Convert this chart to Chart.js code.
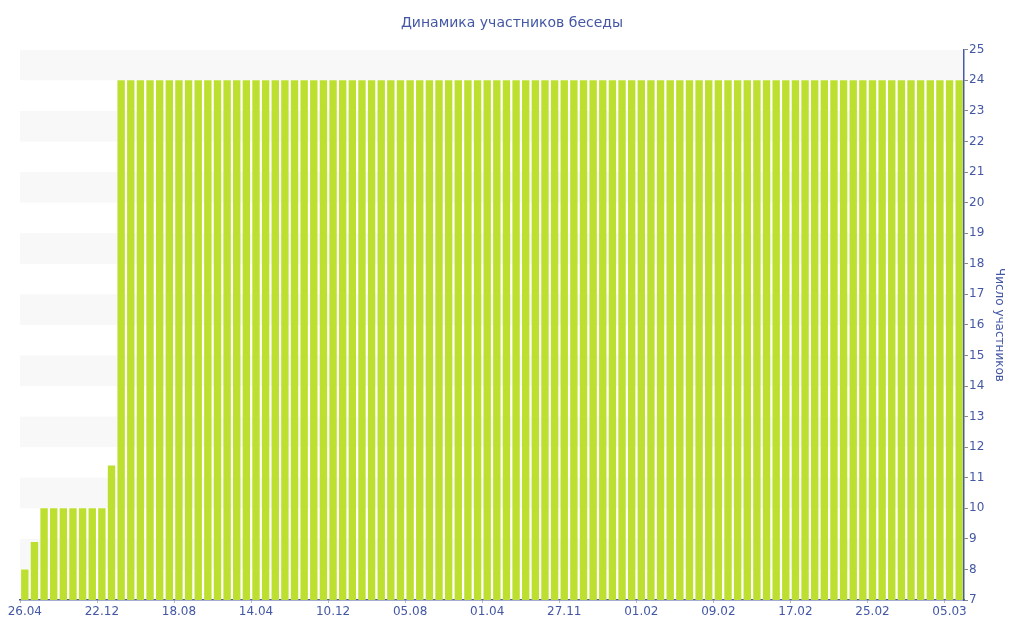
<!DOCTYPE html>
<html>
<head>
<meta charset="utf-8">
<script src="https://cdn.jsdelivr.net/npm/chart.js@4"></script>
<style>
  html, body { margin: 0; padding: 0; background: #fff; }
  #wrap { width: 1024px; height: 640px; }
</style>
</head>
<body>
<div id="wrap"><canvas id="chart"></canvas></div>
<script>
// Tick labels shown every 8th bar
const tickLabels = ["26.04", "22.12", "18.08", "14.04", "10.12", "05.08", "01.04",
  "27.11", "01.02", "09.02", "17.02", "25.02", "05.03"];

// Number of participants per bar
const members = [
  8, 8.9, 10, 10, 10, 10, 10, 10, 10, 11.4,
  24, 24, 24, 24, 24, 24, 24, 24, 24, 24,
  24, 24, 24, 24, 24, 24, 24, 24, 24, 24,
  24, 24, 24, 24, 24, 24, 24, 24, 24, 24,
  24, 24, 24, 24, 24, 24, 24, 24, 24, 24,
  24, 24, 24, 24, 24, 24, 24, 24, 24, 24,
  24, 24, 24, 24, 24, 24, 24, 24, 24, 24,
  24, 24, 24, 24, 24, 24, 24, 24, 24, 24,
  24, 24, 24, 24, 24, 24, 24, 24, 24, 24,
  24, 24, 24, 24, 24, 24, 24, 24,
];

const categories = members.map((_, i) => (i % 8 === 0 ? tickLabels[i / 8] : ""));

const textColor = "#4357a5";
const axisColor = "#4a5aa8";

// Alternating light bands behind the bars
const bandsPlugin = {
  id: "bands",
  beforeDraw(chart) {
    const { ctx, chartArea, scales } = chart;
    ctx.save();
    ctx.fillStyle = "#f8f8f8";
    for (let v = 8; v < 25; v += 2) {
      const top = scales.y.getPixelForValue(v + 1);
      const bottom = scales.y.getPixelForValue(v);
      ctx.fillRect(chartArea.left, top, chartArea.right - chartArea.left, bottom - top);
    }
    ctx.restore();
  },
};

new Chart(document.getElementById("chart"), {
  type: "bar",
  plugins: [bandsPlugin],
  data: {
    labels: categories,
    datasets: [
      {
        data: members,
        yAxisID: "y",
        xAxisID: "x",
        backgroundColor: "#bde030",
        borderWidth: 0,
        barPercentage: 0.77,
        categoryPercentage: 1,
      },
    ],
  },
  options: {
    responsive: true,
    maintainAspectRatio: false,
    animation: false,
    plugins: {
      legend: { display: false },
      tooltip: { enabled: false },
      title: {
        display: true,
        text: "Динамика участников беседы",
        color: textColor,
        font: { family: "DejaVu Sans", size: 14, weight: "normal" },
        padding: { top: 15, bottom: 18 },
      },
    },
    scales: {
      x: {
        grid: {
          drawOnChartArea: false,
          tickLength: 3,
          tickColor: (c) => (c.index % 8 === 0 ? "#bbbbbb" : "transparent"),
        },
        border: { color: axisColor, width: 1.5 },
        ticks: {
          autoSkip: false,
          maxRotation: 0,
          padding: 2,
          color: textColor,
          font: { family: "DejaVu Sans", size: 12 },
        },
        afterFit: (s) => { s.height = 40; },
      },
      y: {
        position: "right",
        min: 7,
        max: 25,
        grid: {
          drawOnChartArea: false,
          tickLength: 4,
          tickColor: "#888888",
        },
        border: { color: axisColor, width: 1.5 },
        ticks: {
          stepSize: 0.5,
          padding: 1,
          color: textColor,
          font: { family: "DejaVu Sans", size: 12 },
          callback: (v) => (Number.isInteger(v) ? v : ""),
        },
        title: {
          display: true,
          text: "Число участников",
          color: textColor,
          font: { family: "DejaVu Sans", size: 12 },
          padding: { top: 18, bottom: 0 },
        },
        afterFit: (s) => { s.width = 60; },
      },
      // empty spacer on the left so the title stays centred on the page
      spacer: {
        axis: "y",
        position: "left",
        min: 7,
        max: 25,
        display: true,
        grid: { display: false },
        border: { display: false },
        ticks: { display: false },
        afterFit: (s) => { s.width = 20; },
      },
    },
  },
});
</script>
</body>
</html>
